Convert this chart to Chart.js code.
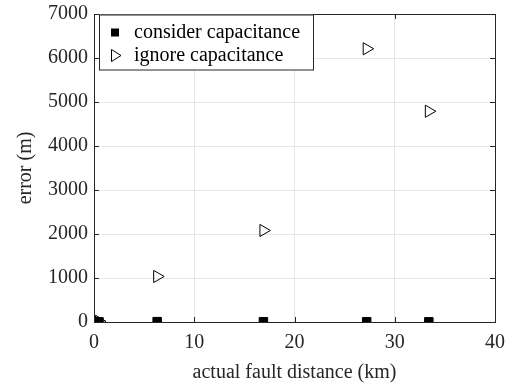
<!DOCTYPE html>
<html>
<head>
<meta charset="utf-8">
<script src="https://cdn.jsdelivr.net/npm/chart.js@4/dist/chart.umd.min.js"></script>
<style>
  html, body { margin: 0; padding: 0; background: #fff; }
  #wrap { width: 510px; height: 387px; }
</style>
</head>
<body>
<div id="wrap"><canvas id="c" width="510" height="387"></canvas></div>
<script>
// Data
const distanceKm = [0.2, 0.5, 6.3, 16.9, 27.2, 33.4];
const considerError = [5, 3, 8, 6, 5, 4];
const ignoreError = [25, 15, 1035, 2080, 6210, 4790];
const seriesLabels = ['consider capacitance', 'ignore capacitance'];
const xTicks = [0, 10, 20, 30, 40];
const yTicks = [0, 1000, 2000, 3000, 4000, 5000, 6000, 7000];

const FONT = "'Liberation Serif', 'Times New Roman', serif";

const toPts = (xs, ys) => xs.map((x, i) => ({ x: x, y: ys[i] }));

const boxPlugin = {
  id: 'boxPlugin',
  afterDatasetsDraw(chart) {
    const { ctx, chartArea: a, scales } = chart;
    ctx.save();
    ctx.strokeStyle = '#262626';
    ctx.lineWidth = 1;
    // inner tick marks
    ctx.beginPath();
    const tl = 5;
    xTicks.forEach(v => {
      const px = Math.round(scales.x.getPixelForValue(v)) + 0.5;
      ctx.moveTo(px, a.bottom); ctx.lineTo(px, a.bottom - tl);
      ctx.moveTo(px, a.top); ctx.lineTo(px, a.top + tl);
    });
    yTicks.forEach(v => {
      const py = Math.round(scales.y.getPixelForValue(v)) + 0.5;
      ctx.moveTo(a.left, py); ctx.lineTo(a.left + tl, py);
      ctx.moveTo(a.right, py); ctx.lineTo(a.right - tl, py);
    });
    ctx.stroke();
    // axes box
    ctx.strokeRect(Math.round(a.left) + 0.5, Math.round(a.top) + 0.5,
                   Math.round(a.right - a.left), Math.round(a.bottom - a.top));
    // legend box
    const lx = a.left + 5, ly = a.top + 0.5, lw = 214, lh = 55;
    ctx.fillStyle = '#fff';
    ctx.fillRect(lx, ly, lw, lh);
    ctx.strokeRect(Math.round(lx) + 0.5, Math.round(ly), lw, lh);
    ctx.font = '20px ' + FONT;
    ctx.textBaseline = 'middle';
    ctx.textAlign = 'left';
    chart.data.datasets.forEach((ds, i) => {
      const cy = ly + 18 + i * 23;
      const mx = lx + 16;
      if (i === 0) {
        ctx.fillStyle = '#000';
        ctx.fillRect(mx - 4, cy - 4, 8, 8);
      } else {
        ctx.beginPath();
        ctx.moveTo(mx + 6, cy);
        ctx.lineTo(mx - 3.5, cy - 6);
        ctx.lineTo(mx - 3.5, cy + 6);
        ctx.closePath();
        ctx.strokeStyle = '#000';
        ctx.stroke();
      }
      ctx.fillStyle = '#000';
      ctx.fillText(ds.label, lx + 35, cy);
    });
    ctx.restore();
  }
};

new Chart(document.getElementById('c'), {
  type: 'scatter',
  data: {
    datasets: [
      {
        label: seriesLabels[0],
        data: toPts(distanceKm, considerError),
        pointStyle: 'rect',
        pointRadius: 6,
        backgroundColor: '#000',
        borderColor: '#000',
        borderWidth: 1
      },
      {
        label: seriesLabels[1],
        data: toPts(distanceKm, ignoreError),
        pointStyle: 'triangle',
        rotation: 90,
        pointRadius: 7,
        backgroundColor: 'rgba(255,255,255,0)',
        borderColor: '#000',
        borderWidth: 1
      }
    ]
  },
  options: {
    responsive: false,
    animation: false,
    layout: { padding: { top: 14, right: 15, left: 14, bottom: 0 } },
    plugins: {
      legend: { display: false },
      tooltip: { enabled: false }
    },
    scales: {
      x: {
        type: 'linear',
        min: 0, max: 40,
        afterBuildTicks: s => { s.ticks = xTicks.map(v => ({ value: v })); },
        afterFit: s => { s.height = 65; s.paddingLeft = 0; s.paddingRight = 0; },
        grid: { color: '#e6e6e6', drawTicks: false, lineWidth: 1 },
        border: { display: false },
        ticks: { color: '#262626', font: { family: FONT, size: 20 }, padding: 9, maxRotation: 0,
                 callback: v => String(v) },
        title: { display: true, text: 'actual fault distance (km)', color: '#262626',
                 font: { family: FONT, size: 20 }, padding: { top: 0, bottom: 2 } }
      },
      y: {
        type: 'linear',
        min: 0, max: 7000,
        afterBuildTicks: s => { s.ticks = yTicks.map(v => ({ value: v })); },
        afterFit: s => { s.width = 80; s.paddingTop = 0; s.paddingBottom = 0; },
        grid: { color: '#e6e6e6', drawTicks: false, lineWidth: 1 },
        border: { display: false },
        ticks: { color: '#262626', font: { family: FONT, size: 20 }, padding: 6,
                 callback: v => String(v) },
        title: { display: true, text: 'error (m)', color: '#262626',
                 font: { family: FONT, size: 20 }, padding: { top: 0, bottom: 0 } }
      }
    }
  },
  plugins: [boxPlugin]
});
</script>
</body>
</html>
